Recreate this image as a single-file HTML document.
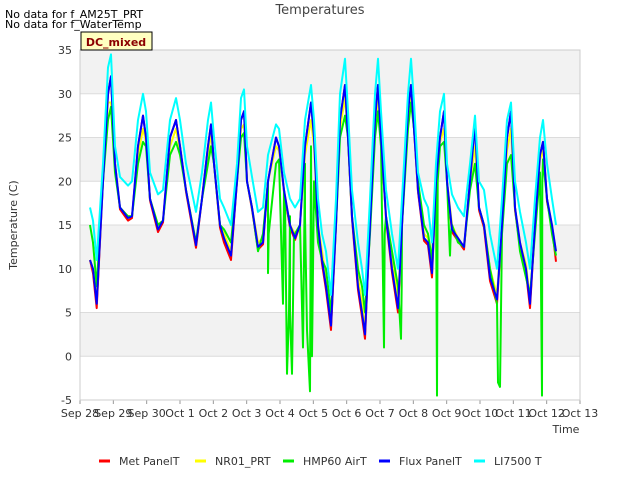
<!DOCTYPE html>
<html><head><meta charset="utf-8"><style>
body{margin:0;background:#fff;font-family:"Liberation Sans",sans-serif}
svg text{font-family:"DejaVu Sans","Liberation Sans",sans-serif}
</style></head><body>
<svg width="640" height="480" xmlns="http://www.w3.org/2000/svg">
<g id="bg"></g>
<g id="grid"></g>
<g id="series"></g>
<g id="axes"></g>
<text x="320" y="14" text-anchor="middle" font-size="13" fill="#444">Temperatures</text>
<text x="5" y="18" font-size="11" fill="#000">No data for f_AM25T_PRT</text>
<text x="5" y="28" font-size="11" fill="#000">No data for f_WaterTemp</text>
<rect x="81" y="32" width="71" height="18" fill="#ffffc0" stroke="#000" stroke-width="1"/>
<text x="116" y="46" text-anchor="middle" font-size="11" font-weight="bold" fill="#8b0000">DC_mixed</text>
<text transform="translate(17,225) rotate(-90)" text-anchor="middle" font-size="11" fill="#333">Temperature (C)</text>
<text x="566" y="433" text-anchor="middle" font-size="11" fill="#333">Time</text>
<g id="legend"></g>
</svg>
<script>
const T=[0.3,0.39,0.5,0.69,0.84,0.93,1.05,1.2,1.44,1.56,1.74,1.89,1.98,2.1,2.34,2.49,2.7,2.88,3.0,3.18,3.48,3.66,3.84,3.93,4.02,4.2,4.32,4.53,4.71,4.83,4.92,5.01,5.16,5.34,5.49,5.64,5.88,5.97,6.12,6.3,6.45,6.6,6.75,6.93,7.02,7.14,7.26,7.38,7.53,7.68,7.8,7.95,8.04,8.16,8.34,8.46,8.55,8.7,8.85,8.94,9.03,9.18,9.36,9.54,9.66,9.84,9.93,10.02,10.14,10.32,10.44,10.56,10.68,10.8,10.92,11.01,11.16,11.34,11.52,11.7,11.85,11.97,12.12,12.3,12.51,12.66,12.81,12.93,13.05,13.2,13.38,13.5,13.65,13.8,13.89,14.01,14.16,14.28];
const metPanel=[11,9.5,5.5,20,30,32,22,16.8,15.5,15.8,24,27.5,25,17.8,14.2,15.3,25,27,24,18.8,12.4,18,24,26.5,22,14.7,13,11,20,27,28,20,16.8,12.2,12.8,20,25,24,18.8,14.7,13.3,15,24,29,25,14.7,10.6,7.6,3,15,27,31,25,15.7,7.6,4.5,2,15,27,31,25,15.7,9.6,5,15,28,31,26,18.8,13.2,12.7,9,20,25,28,20,14.2,13.2,12.2,20,26.5,16.7,14.7,8.6,6,15,25,28,16.7,12.6,9.6,5.5,15,23,24.5,17.7,14.8,10.8];
const nr01=[11,10,6.5,20,29,29,22,17,16,16,23,26,24.5,18,15,15.5,24,26,23.5,19,13,18,23,25.5,22,15,14,12,20,26,26.5,20,17,13,13.5,20,24,23.5,19,15,14,15,23,27,24,15,12,9,4,15,26,29.5,25,16,9,6,3,15,26,29.5,25,16,11,6.5,15,27,29.5,26,19,14,13.5,10,20,24.5,26,20,15,13.5,12.5,20,24,17,15,10,7,15,23.5,26,17,13,10.5,6.5,15,22.5,23.5,18,15,12];
const hmp60=[15,13,8,20,27,28.5,21,17,16,16,22,24.5,24,18,15,15.5,23,24.5,23,19,13,18,22,24,22,15,14.5,13,20,25,25.5,20,17,12,14,20,22,22.5,19,16,14,15,22,24,20,13,11,10,5,15,25,27.5,25,16,10,8,5,14,25,28,24,16,12,8,15,26,29,26,20,15,14,11,20,24,24.5,20,15,13,12.5,19,22,17,15,10,6,14,22,23,17,12,9,7,14,21,22.5,18,14,11.5];
const hmpSpikeT=[5.64,5.66,6.09,6.15,6.21,6.27,6.3,6.36,6.42,6.69,6.75,6.81,6.9,6.96,9.12,9.14,9.63,9.65,10.71,10.73,11.1,11.12,12.54,12.6,13.86,13.87];
const hmpSpikeV=[9.5,14,6,18,-2,5,5,-2,14,1,16,3,-4,0,1,14,2,8,-4.5,20,11.5,14,-3,-3.5,-4.5,20];
const flux=[11,10,6,20,30,32,22,17,15.8,16,24,27.5,25,18,14.5,15.5,25,27,24,19,12.7,18,24,26.5,22,15,13.5,11.5,20,27,28,20,17,12.5,13,20,25,24,19,15,13.5,15,24,29,25,15,11,8,3.5,15,27,31,25,16,8,5,2.5,15,27,31,25,16,10,5.5,15,28,31,26,19,13.5,13,9.5,20,25,28,20,14.5,13.5,12.5,20,26.5,17,15,9,6.5,15,25,28,17,13,10,6,15,23,24.5,18,15,12];
const li7500=[17,15.5,11,22,33,34.5,24,20.5,19.5,20,27,30,28,21,18.5,19,27,29.5,27,22,16.5,21,27,29,25,18,17,15,22,29.5,30.5,24,20.5,16.5,17,23,26.5,26,21,18,17,18,27,31,27,18,14,12,7,18,30,34,28,19,13,10,7,18,30,34,28,19,14,10,18,30,34,29,21,18,17,13,22,28,30,22,18.5,17,16,22,27.5,20,19,14,10,18,27,29,20,16.5,13,10,18,25,27,22,18,15];
const yTicks=[-5,0,5,10,15,20,25,30,35];
const xTickLabels=["Sep 28","Sep 29","Sep 30","Oct 1","Oct 2","Oct 3","Oct 4","Oct 5","Oct 6","Oct 7","Oct 8","Oct 9","Oct 10","Oct 11","Oct 12","Oct 13"];
const seriesNames=["Met PanelT","NR01_PRT","HMP60 AirT","Flux PanelT","LI7500 T"];
const seriesColors=["#ff0000","#ffff00","#00ee00","#0000ff","#00ffff"];

const X0=80,X1=580,Y0=400,Y1=50;
const xs=t=>X0+(t/15)*(X1-X0);
const ys=v=>Y0-(v+5)/40*(Y0-Y1);
const NS="http://www.w3.org/2000/svg";
function mk(tag,attrs,parent){const e=document.createElementNS(NS,tag);for(const k in attrs)e.setAttribute(k,attrs[k]);parent.appendChild(e);return e;}
const bg=document.getElementById('bg'),grid=document.getElementById('grid'),axes=document.getElementById('axes'),ser=document.getElementById('series'),leg=document.getElementById('legend');
mk('rect',{x:X0,y:Y1,width:X1-X0,height:Y0-Y1,fill:'#fff'},bg);
for(let i=0;i<yTicks.length-1;i++){if(i%2===1){const r=mk('rect',{x:X0,y:ys(yTicks[i+1]),width:X1-X0,height:ys(yTicks[i])-ys(yTicks[i+1]),fill:'#f2f2f2'},bg);}}
yTicks.forEach(v=>{const l=mk('line',{x1:X0,x2:X1,y1:ys(v),y2:ys(v),stroke:'#dcdcdc','stroke-width':1},grid);
const t=mk('text',{x:X0-8,y:ys(v)+4,'text-anchor':'end','font-size':11,fill:'#333'},axes);t.textContent=v;});
xTickLabels.forEach((s,i)=>{const t=mk('text',{x:xs(i),y:Y0+17,'text-anchor':'middle','font-size':11,fill:'#333'},axes);t.textContent=s;
const tk=mk('line',{x1:xs(i),x2:xs(i),y1:Y0,y2:Y0+4,stroke:'#999'},axes);});
mk('rect',{x:X0,y:Y1,width:X1-X0,height:Y0-Y1,fill:'none',stroke:'#ccc'},axes);
const hm=T.map((t,i)=>[t,hmp60[i]]);hmpSpikeT.forEach((t,i)=>hm.push([t,hmpSpikeV[i]]));hm.sort((a,b)=>a[0]-b[0]);
const all=[T.map((t,i)=>[t,metPanel[i]]),T.map((t,i)=>[t,nr01[i]]),hm,T.map((t,i)=>[t,flux[i]]),T.map((t,i)=>[t,li7500[i]])];
all.forEach((pts,k)=>{const p=mk('polyline',{points:pts.map(q=>xs(q[0]).toFixed(1)+','+ys(q[1]).toFixed(1)).join(' '),fill:'none',stroke:seriesColors[k],'stroke-width':2,'stroke-linejoin':'round'},ser);
});
const legX=[99,195,283,379,474];
seriesNames.forEach((n,k)=>{const g=mk('g',{},leg);
mk('line',{x1:legX[k],x2:legX[k]+11,y1:461,y2:461,stroke:seriesColors[k],'stroke-width':3},g);
const t=mk('text',{x:legX[k]+20,y:465,'font-size':11,fill:'#333'},g);t.textContent=n;});
</script>
</body></html>
